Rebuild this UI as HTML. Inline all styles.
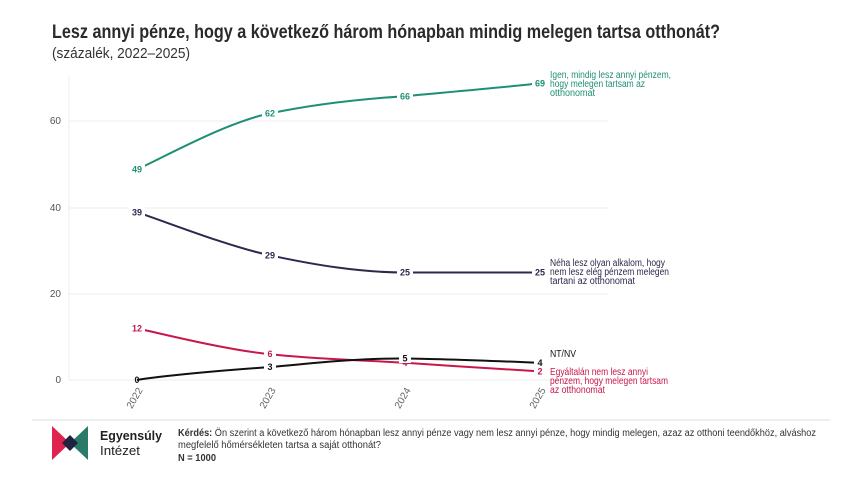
<!DOCTYPE html>
<html><head><meta charset="utf-8"><style>
body{margin:0;background:#fff}
svg{display:block;font-family:"Liberation Sans Narrow","Liberation Sans",sans-serif}
</style></head><body>
<svg width="862" height="484" viewBox="0 0 862 484" xmlns="http://www.w3.org/2000/svg">
<text x="52" y="38" font-size="19" font-weight="bold" fill="#2a2a2a" textLength="668" lengthAdjust="spacingAndGlyphs">Lesz annyi pénze, hogy a következő három hónapban mindig melegen tartsa otthonát?</text>
<text x="52" y="58" font-size="15" fill="#333" textLength="138" lengthAdjust="spacingAndGlyphs">(százalék, 2022–2025)</text>
<g stroke="#ececec" stroke-width="1">
<line x1="69" y1="121" x2="608" y2="121"/><line x1="69" y1="208" x2="608" y2="208"/>
<line x1="69" y1="294" x2="608" y2="294"/><line x1="69" y1="380" x2="608" y2="380"/>
<line x1="69" y1="76" x2="69" y2="380"/>
</g>
<g font-size="10" fill="#555" text-anchor="end">
<text x="61" y="124">60</text><text x="61" y="211">40</text><text x="61" y="297">20</text><text x="61" y="383">0</text>
</g>
<g font-size="10" fill="#666" text-anchor="end">
<text transform="translate(143,390) rotate(-60)">2022</text>
<text transform="translate(276,390) rotate(-60)">2023</text>
<text transform="translate(411,390) rotate(-60)">2024</text>
<text transform="translate(546,390) rotate(-60)">2025</text>
</g>
<g fill="none" stroke-width="2">
<path stroke="#1f8f74" d="M137,169.3 C159,160 226,122 270,113.4 C315,104 360,99 405,96.2 C450,92 518,86 540,83.3"/>
<path stroke="#2b2a4c" d="M137,212.3 C159,219 226,246 270,255.3 C315,265 360,272.5 405,272.5 L540,272.5"/>
<path stroke="#c8174a" d="M137,328.4 C159,333 226,350 270,354.2 C315,359 360,360 405,362.8 C450,366 518,370 540,371.4"/>
<path stroke="#111" d="M137,380 C159,376 226,370 270,367.1 C315,363 360,358 405,358.5 C450,359 518,362 540,362.8"/>
</g>
<g font-size="9" font-weight="bold" text-anchor="middle">
<g fill="#1f8f74"><rect x="129" y="163" width="16" height="11" fill="#fff"/><text x="137" y="172.5">49</text>
<rect x="262" y="108" width="16" height="11" fill="#fff"/><text x="270" y="116.5">62</text>
<rect x="397" y="90" width="16" height="11" fill="#fff"/><text x="405" y="99.5">66</text>
<rect x="532" y="78" width="16" height="11" fill="#fff"/><text x="540" y="86.5">69</text></g>
<g fill="#2b2a4c"><rect x="129" y="207" width="16" height="11" fill="#fff"/><text x="137" y="215.5">39</text>
<rect x="262" y="250" width="16" height="11" fill="#fff"/><text x="270" y="258.5">29</text>
<rect x="397" y="267" width="16" height="11" fill="#fff"/><text x="405" y="275.5">25</text>
<rect x="532" y="267" width="16" height="11" fill="#fff"/><text x="540" y="275.5">25</text></g>
<g fill="#c8174a"><rect x="129" y="323" width="16" height="11" fill="#fff"/><text x="137" y="331.5">12</text>
<rect x="264" y="349" width="12" height="10" fill="#fff"/><text x="270" y="357">6</text>
<text x="405" y="366">4</text>
<rect x="534" y="366" width="12" height="10" fill="#fff"/><text x="540" y="374.5">2</text></g>
<g fill="#111"><text x="137" y="383">0</text>
<rect x="264" y="362" width="12" height="10" fill="#fff"/><text x="270" y="370">3</text>
<rect x="399" y="353" width="12" height="10" fill="#fff"/><text x="405" y="361.5">5</text>
<rect x="534" y="357" width="12" height="10" fill="#fff"/><text x="540" y="366">4</text></g>
</g>
<g font-size="10" lengthAdjust="spacingAndGlyphs">
<g fill="#1f8f74"><text x="550" y="78" textLength="121" lengthAdjust="spacingAndGlyphs">Igen, mindig lesz annyi pénzem,</text><text x="550" y="87" textLength="95" lengthAdjust="spacingAndGlyphs">hogy melegen tartsam az</text><text x="550" y="96" textLength="45" lengthAdjust="spacingAndGlyphs">otthonomat</text></g>
<g fill="#2b2a4c"><text x="550" y="266" textLength="115" lengthAdjust="spacingAndGlyphs">Néha lesz olyan alkalom, hogy</text><text x="550" y="275" textLength="119" lengthAdjust="spacingAndGlyphs">nem lesz elég pénzem melegen</text><text x="550" y="284" textLength="85" lengthAdjust="spacingAndGlyphs">tartani az otthonomat</text></g>
<text x="550" y="357" fill="#111" textLength="26" lengthAdjust="spacingAndGlyphs">NT/NV</text>
<g fill="#c8174a"><text x="550" y="375" textLength="98" lengthAdjust="spacingAndGlyphs">Egyáltalán nem lesz annyi</text><text x="550" y="384" textLength="118" lengthAdjust="spacingAndGlyphs">pénzem, hogy melegen tartsam</text><text x="550" y="393" textLength="55" lengthAdjust="spacingAndGlyphs">az otthonomat</text></g>
</g>
<line x1="32" y1="420" x2="830" y2="420" stroke="#ddd" stroke-width="1"/>
<polygon points="52,426 70,443 52,460" fill="#e0234e"/>
<polygon points="88,426 70,443 88,460" fill="#2a7a68"/>
<polygon points="62,443 70,435 78,443 70,451" fill="#1e2340"/>
<text x="100" y="440" font-size="13" font-weight="bold" fill="#222" textLength="62" lengthAdjust="spacingAndGlyphs">Egyensúly</text>
<text x="100" y="455" font-size="13" fill="#222" textLength="40" lengthAdjust="spacingAndGlyphs">Intézet</text>
<g font-size="10" fill="#333">
<text x="178" y="436" textLength="638" lengthAdjust="spacingAndGlyphs"><tspan font-weight="bold">Kérdés:</tspan> Ön szerint a következő három hónapban lesz annyi pénze vagy nem lesz annyi pénze, hogy mindig melegen, azaz az otthoni teendőkhöz, alváshoz</text>
<text x="178" y="448" textLength="203" lengthAdjust="spacingAndGlyphs">megfelelő hőmérsékleten tartsa a saját otthonát?</text>
<text x="178" y="461" font-weight="bold" textLength="38" lengthAdjust="spacingAndGlyphs">N = 1000</text>
</g>
</svg>
</body></html>
